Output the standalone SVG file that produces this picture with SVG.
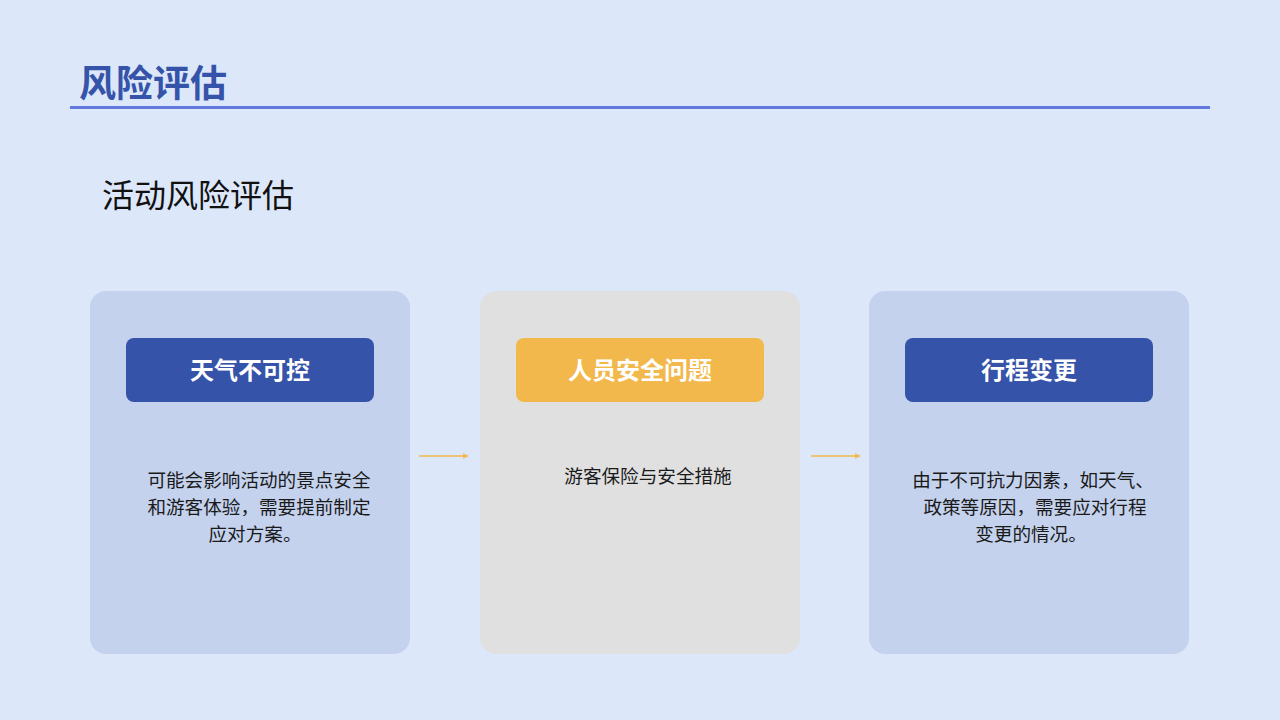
<svg xmlns="http://www.w3.org/2000/svg" width="1280" height="720" viewBox="0 0 1280 720">
<style>
text{font-family:"Noto Sans CJK SC","Noto Sans",sans-serif}
.card{fill:#C4D2EE}
.hdr{fill:#3553A8}
.ht{fill:#FFFFFF;font-size:24px;font-weight:bold;text-anchor:middle}
.bt{fill:#1A1A1A;font-size:18.6px;text-anchor:middle}
.conn{stroke:#F2B84B;stroke-width:1.3;fill:none}
</style>
<defs>
<marker id="ah" viewBox="0 0 10 10" refX="9" refY="5" markerWidth="6" markerHeight="6" orient="auto" markerUnits="userSpaceOnUse">
<path d="M0,0 L10,5 L0,10 z" fill="#F2B84B"/>
</marker>
</defs>
<rect width="1280" height="720" fill="#DCE7F9"/>
<text x="79" y="97" font-size="37" font-weight="bold" fill="#3553A8">风险评估</text>
<line x1="70" y1="107.5" x2="1210" y2="107.5" stroke="#6279DE" stroke-width="3"/>
<text x="102" y="207" font-size="32" fill="#111111">活动风险评估</text>
<g id="node1">
<rect class="card" x="90" y="291" width="320" height="363" rx="16"/>
<rect class="hdr" x="126" y="338" width="248" height="64" rx="8"/>
<text class="ht" x="250" y="379">天气不可控</text>
<text class="bt" x="259" y="487">可能会影响活动的景点安全</text>
<text class="bt" x="259" y="514">和游客体验，需要提前制定</text>
<text class="bt" x="255" y="541">应对方案。</text>
</g>
<g id="node2">
<rect x="480" y="291" width="320" height="363" rx="16" fill="#E0E0E0"/>
<rect x="516" y="338" width="248" height="64" rx="8" fill="#F2B84B"/>
<text class="ht" x="640" y="379">人员安全问题</text>
<text class="bt" x="648" y="483">游客保险与安全措施</text>
</g>
<g id="node3">
<rect class="card" x="869" y="291" width="320" height="363" rx="16"/>
<rect class="hdr" x="905" y="338" width="248" height="64" rx="8"/>
<text class="ht" x="1029" y="379">行程变更</text>
<text class="bt" x="1033" y="487">由于不可抗力因素，如天气、</text>
<text class="bt" x="1035" y="514">政策等原因，需要应对行程</text>
<text class="bt" x="1031" y="541">变更的情况。</text>
</g>
<g id="connectors">
<line class="conn" x1="419" y1="456" x2="468" y2="456" marker-end="url(#ah)"/>
<line class="conn" x1="811" y1="456" x2="860" y2="456" marker-end="url(#ah)"/>
</g>
</svg>
